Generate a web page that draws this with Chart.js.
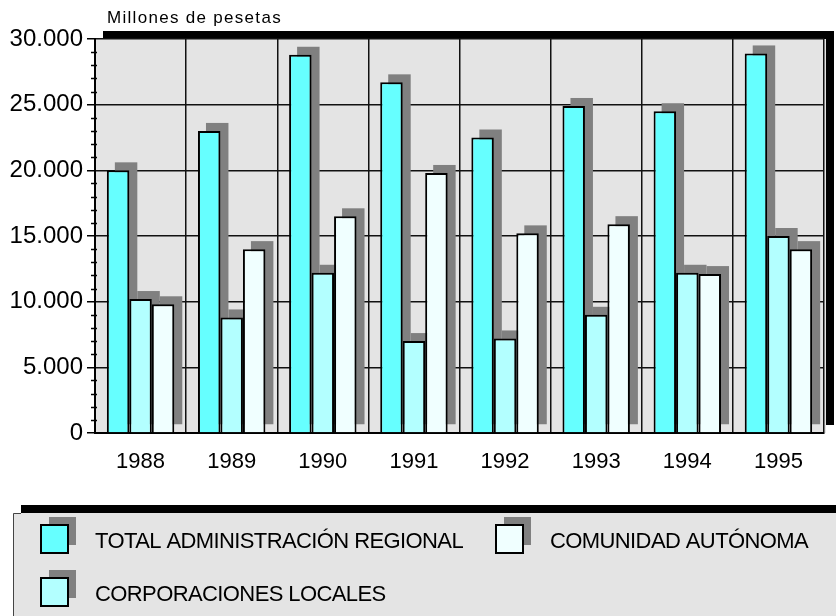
<!DOCTYPE html>
<html>
<head>
<meta charset="utf-8">
<script src="https://cdn.jsdelivr.net/npm/chart.js@4.4.1/dist/chart.umd.min.js"></script>
<style>
  html, body { margin: 0; padding: 0; background: #fff; }
  #wrap { width: 836px; height: 616px; }
</style>
</head>
<body>
<div id="wrap"><canvas id="chart" width="836" height="616"></canvas></div>
<script>
// datos (millones de pesetas)
const years = ['1988', '1989', '1990', '1991', '1992', '1993', '1994', '1995'];
const totalRegional = [20000, 23000, 28800, 26700, 22500, 24900, 24500, 28900];
const corporacionesLocales = [10200, 8800, 12200, 7000, 7200, 9000, 12200, 15000];
const comunidadAutonoma = [9800, 14000, 16500, 19800, 15200, 15900, 12100, 14000];
const yTicks = [0, 5000, 10000, 15000, 20000, 25000, 30000];
const unitLabel = 'Millones de pesetas';

const FONT = '"Liberation Sans", Arial, sans-serif';
const SHADOW = 8;

// etiquetas de la leyenda (orden de la imagen)
const legendItems = [
    { text: 'TOTAL ADMINISTRACIÓN REGIONAL', color: '#66ffff', x: 41, y: 525 },
    { text: 'COMUNIDAD AUTÓNOMA', color: '#f0ffff', x: 496, y: 525 },
    { text: 'CORPORACIONES LOCALES', color: '#b3ffff', x: 41, y: 578 }
];

function fmt(v) {
    return String(v).replace(/\B(?=(\d{3})+(?!\d))/g, '.');
}

// fondo del área de trazado con su sombra negra
const plotFrame = {
    id: 'plotFrame',
    beforeDraw(chart) {
        const { ctx, chartArea: a } = chart;
        ctx.save();
        ctx.fillStyle = '#000';
        ctx.fillRect(a.left + SHADOW, a.top - SHADOW, a.right - a.left + 2, a.bottom - a.top);
        ctx.fillStyle = '#e4e4e4';
        ctx.fillRect(a.left, a.top, a.right - a.left + 2, a.bottom - a.top);
        ctx.restore();
    }
};

// sombras grises de las barras
const barShadows = {
    id: 'barShadows',
    beforeDatasetsDraw(chart) {
        const { ctx } = chart;
        ctx.save();
        ctx.fillStyle = '#808080';
        chart.data.datasets.forEach((ds, i) => {
            chart.getDatasetMeta(i).data.forEach(bar => {
                const w = bar.width;
                ctx.fillRect(bar.x - w / 2 + SHADOW, bar.y - SHADOW, w, bar.base - bar.y);
            });
        });
        ctx.restore();
    }
};

// marcas menores del eje Y, título de unidades y leyenda
const extras = {
    id: 'extras',
    afterDraw(chart) {
        const { ctx, chartArea: a } = chart;
        const y = chart.scales.y;
        ctx.save();

        ctx.strokeStyle = '#000';
        ctx.lineWidth = 1.5;
        for (let v = 1000; v < 30000; v += 1000) {
            if (v % 5000 === 0) continue;
            const py = Math.round(y.getPixelForValue(v)) + 0.5;
            ctx.beginPath();
            ctx.moveTo(a.left - 4, py);
            ctx.lineTo(a.left + 2, py);
            ctx.stroke();
        }

        ctx.fillStyle = '#000';
        ctx.font = '17px ' + FONT;
        ctx.letterSpacing = '1.3px';
        ctx.textBaseline = 'alphabetic';
        ctx.textAlign = 'left';
        ctx.fillText(unitLabel, 107, 23);

        // cuadro de la leyenda
        ctx.fillStyle = '#000';
        ctx.fillRect(21, 505, 820, 120);
        ctx.fillStyle = '#e4e4e4';
        ctx.fillRect(13, 513, 830, 110);
        ctx.strokeStyle = '#444';
        ctx.lineWidth = 1;
        ctx.beginPath();
        ctx.moveTo(13.5, 616);
        ctx.lineTo(13.5, 513.5);
        ctx.lineTo(21, 513.5);
        ctx.stroke();

        ctx.font = '22px ' + FONT;
        ctx.letterSpacing = '-0.6px';
        legendItems.forEach(it => {
            ctx.fillStyle = '#808080';
            ctx.fillRect(it.x + SHADOW, it.y - SHADOW, 27, 28);
            ctx.fillStyle = it.color;
            ctx.fillRect(it.x, it.y, 27, 28);
            ctx.strokeStyle = '#000';
            ctx.lineWidth = 2;
            ctx.strokeRect(it.x, it.y, 27, 28);
            ctx.fillStyle = '#000';
            ctx.fillText(it.text, it.x + 54, it.y + 23);
        });
        ctx.restore();
    }
};

const chart = new Chart(document.getElementById('chart'), {
    type: 'bar',
    data: {
        labels: years,
        datasets: [{
            label: 'TOTAL ADMINISTRACIÓN REGIONAL',
            data: totalRegional,
            backgroundColor: '#66ffff'
        }, {
            label: 'CORPORACIONES LOCALES',
            data: corporacionesLocales,
            backgroundColor: '#b3ffff'
        }, {
            label: 'COMUNIDAD AUTÓNOMA',
            data: comunidadAutonoma,
            backgroundColor: '#f0ffff'
        }]
    },
    options: {
        responsive: false,
        animation: false,
        devicePixelRatio: 1,
        layout: { padding: { top: 39, right: 12, left: 0, bottom: 0 } },
        datasets: {
            bar: {
                borderColor: '#000',
                borderWidth: 2,
                categoryPercentage: 0.74,
                barPercentage: 1
            }
        },
        scales: {
            x: {
                afterFit(s) { s.height = 183; },
                grid: {
                    color: '#111',
                    lineWidth: 1.5,
                    offset: true,
                    drawTicks: false
                },
                border: { display: true, color: '#000', width: 2 },
                ticks: {
                    color: '#000',
                    font: { family: FONT, size: 22 },
                    padding: 16
                }
            },
            y: {
                min: 0,
                max: 30000,
                afterFit(s) { s.width = 95; },
                afterBuildTicks(s) { s.ticks = yTicks.map(v => ({ value: v })); },
                grid: {
                    color: '#111',
                    lineWidth: 1.5,
                    tickLength: 8,
                    tickColor: '#000'
                },
                border: { display: true, color: '#000', width: 2 },
                ticks: {
                    color: '#000',
                    font: { family: FONT, size: 24 },
                    padding: 4,
                    callback: v => fmt(v)
                }
            }
        },
        plugins: {
            legend: { display: false },
            tooltip: { enabled: false },
            title: { display: false }
        }
    },
    plugins: [plotFrame, barShadows, extras]
});
</script>
</body>
</html>
